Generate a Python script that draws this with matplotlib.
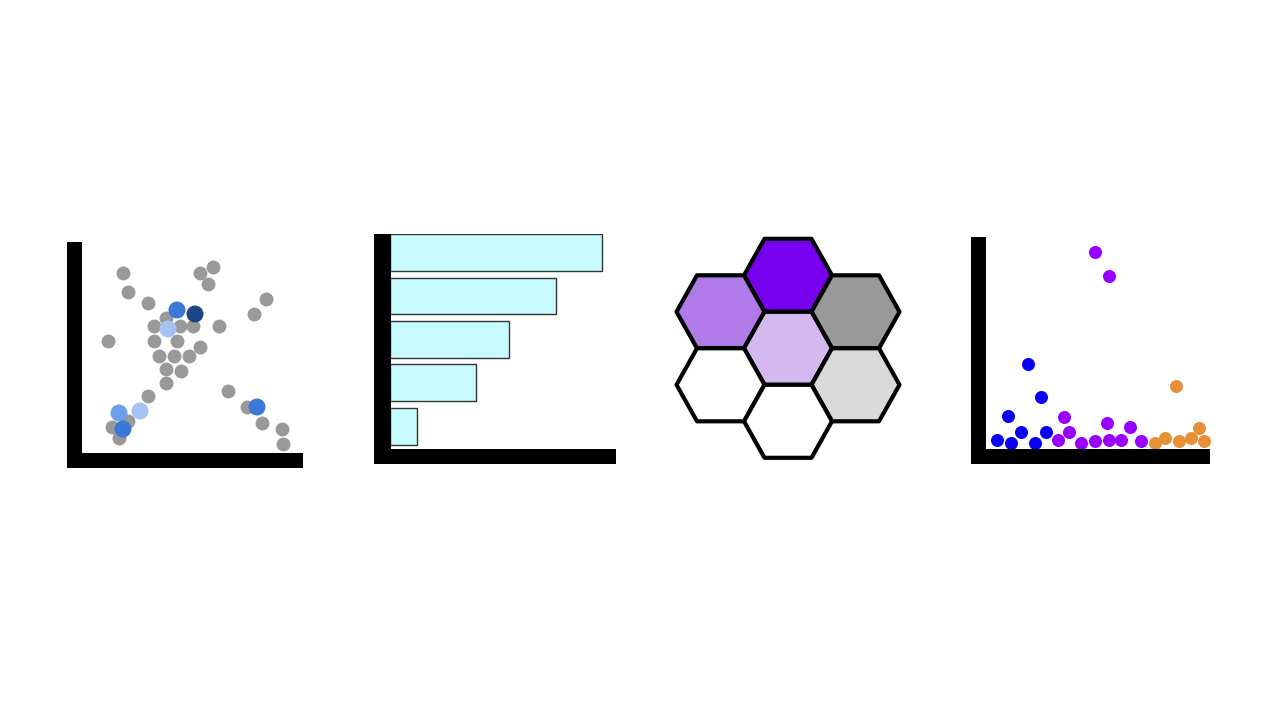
import matplotlib
matplotlib.use('Agg')
import matplotlib.pyplot as plt
from matplotlib.patches import Rectangle, Polygon

# ---------------- data ----------------
# Panel 1: scatter (gray background points + highlighted blue points)
gray_x = [41, 46, 66, 26, 118, 131, 126, 184, 172, 137, 84, 72, 98, 111, 72, 95,
          118, 77, 92, 107, 84, 99, 84, 66, 146, 165, 180, 200, 201, 30, 46, 37]
gray_y = [180, 161, 150, 112, 180, 186, 169, 154, 139, 127, 135, 127, 127, 127, 112, 112,
          106, 97, 97, 97, 84, 82, 70, 57, 62, 46, 30, 24, 9, 26, 32, 15]
blue_x = [95, 113, 86, 37, 58, 41, 175]
blue_y = [143, 139, 124, 40, 42, 24, 46]
blue_c = ['#3c78d8', '#1c4587', '#a4c2f4', '#6d9eeb', '#a4c2f4', '#3c78d8', '#3c78d8']

# Panel 2: horizontal bars (bottom to top)
bar_values = [27, 86, 119, 166, 212]

# Panel 3: hexagon cells (column, half-row) and fills
hex_col = [0, -1, 1, 0, -1, 1, 0]
hex_row = [2, 1, 1, 0, -1, -1, -2]
hex_fill = ['#7700ee', '#b07ae8', '#999999', '#d4b8f0', '#ffffff', '#d9d9d9', '#ffffff']

# Panel 4: scatter by group
g_blue_x = [10.7, 24.7, 34.7, 49, 60, 22.3, 55, 42.3]
g_blue_y = [9.3, 6, 17.6, 6, 17.6, 33.6, 52, 85]
g_purple_x = [109, 123.3, 78, 83.3, 71.7, 94.7, 109, 120.7, 123.3, 135, 144, 155]
g_purple_y = [197.6, 173.3, 32.6, 17.6, 9.3, 6, 8.6, 26, 9.3, 9.3, 22.6, 8.6]
g_orange_x = [190, 169, 179, 193.3, 205, 213.3, 218]
g_orange_y = [63.3, 6.6, 11, 8.6, 11, 21, 8.6]

# ---------------- figure ----------------
W, H = 1280, 720
fig = plt.figure(figsize=(12.8, 7.2), dpi=100)
fig.patch.set_facecolor('white')


def add_ax(left, top, right, bottom):
    ax = fig.add_axes([left / W, 1 - bottom / H, (right - left) / W, (bottom - top) / H])
    ax.set_axis_off()
    return ax


def draw_L(left_outer, top, right, bottom_outer, tv, th):
    fig.add_artist(Rectangle((left_outer / W, 1 - bottom_outer / H), tv / W,
                             (bottom_outer - top) / H, transform=fig.transFigure,
                             facecolor='black', edgecolor='none', zorder=5))
    fig.add_artist(Rectangle((left_outer / W, 1 - bottom_outer / H),
                             (right - left_outer) / W, th / H, transform=fig.transFigure,
                             facecolor='black', edgecolor='none', zorder=5))


# Panel 1
ax1 = add_ax(82, 242, 303, 453)
ax1.set_xlim(0, 221)
ax1.set_ylim(0, 211)
ax1.scatter(gray_x, gray_y, s=100, color='#999999', linewidths=0, clip_on=False)
ax1.scatter(blue_x, blue_y, s=150, c=blue_c, linewidths=0, clip_on=False, zorder=3)
draw_L(66.7, 242, 303, 468, 15.6, 15.3)

# Panel 2
ax2 = add_ax(389.5, 234, 615.7, 449)
ax2.set_xlim(0, 226)
ax2.set_ylim(-0.525, 4.43)
ax2.barh(range(len(bar_values)), bar_values, height=0.85, color='#c8fbfe',
         edgecolor='#333333', linewidth=1.0)
draw_L(374, 234, 615.7, 464, 16.5, 15)

# Panel 3
ax3 = add_ax(670, 230, 905, 465)
ax3.set_xlim(-118, 117)
ax3.set_ylim(-116.7, 118.3)
dx, dy = 67.5, 36.5
a, b, h = 44.0, 23.5, 36.5
for q, r, fc in zip(hex_col, hex_row, hex_fill):
    cx, cy = q * dx, r * dy
    verts = [(cx - a, cy), (cx - b, cy + h), (cx + b, cy + h),
             (cx + a, cy), (cx + b, cy - h), (cx - b, cy - h)]
    ax3.add_patch(Polygon(verts, closed=True, facecolor=fc, edgecolor='black',
                          linewidth=3.0, joinstyle='round', clip_on=False))

# Panel 4
ax4 = add_ax(986, 237.3, 1210, 449.3)
ax4.set_xlim(0, 224)
ax4.set_ylim(0, 212)
ax4.scatter(g_blue_x, g_blue_y, s=88, color='#0a00f5', linewidths=0, clip_on=False)
ax4.scatter(g_purple_x, g_purple_y, s=88, color='#9a00ff', linewidths=0, clip_on=False)
ax4.scatter(g_orange_x, g_orange_y, s=88, color='#e69138', linewidths=0, clip_on=False)
draw_L(970.7, 237.3, 1210, 464.3, 15.3, 15)

fig.savefig('out.png', dpi=100, facecolor='white')
